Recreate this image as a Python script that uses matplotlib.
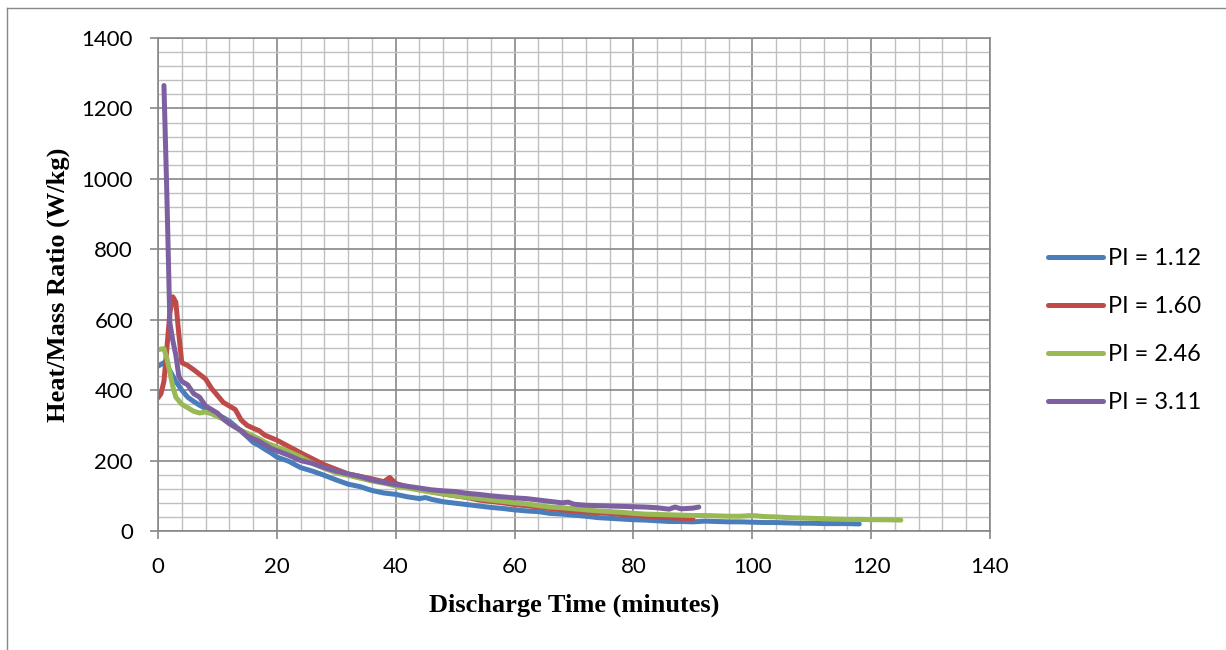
import matplotlib.pyplot as plt
from matplotlib.lines import Line2D
from matplotlib.ticker import MultipleLocator

# PI = 1.12
t_112 = [0, 1, 2, 3, 4, 5, 6, 7, 8, 9, 10, 11, 12, 13, 14, 15, 16, 17, 18, 19,
         20, 22, 24, 26, 28, 30, 32, 34, 36, 38, 40, 42, 44, 45, 46, 48, 50, 52,
         54, 56, 58, 60, 62, 64, 66, 68, 70, 72, 74, 76, 78, 80, 82, 84, 86, 88,
         90, 92, 94, 96, 98, 100, 102, 104, 106, 108, 110, 112, 114, 116, 118]
v_112 = [468, 478, 455, 425, 400, 380, 368, 357, 348, 340, 330, 322, 312, 298,
         283, 268, 252, 243, 232, 222, 210, 198, 180, 170, 158, 145, 133, 126,
         115, 108, 104, 97, 92, 95, 90, 83, 79, 75, 71, 67, 64, 60, 57, 55, 50,
         48, 45, 42, 38, 36, 34, 32, 31, 29, 27, 27, 26, 28, 27, 26, 26, 25, 24,
         24, 23, 22, 22, 21, 21, 21, 20]

# PI = 1.60
t_160 = [0, 0.5, 1, 1.5, 2, 2.5, 3, 3.5, 4, 5, 6, 7, 8, 9, 10, 11, 12, 13, 14,
         15, 16, 17, 18, 19, 20, 22, 24, 26, 28, 30, 32, 34, 36, 38, 39, 40, 42,
         44, 46, 48, 50, 52, 54, 56, 58, 60, 62, 64, 66, 68, 70, 72, 74, 76, 78,
         80, 82, 84, 86, 88, 90]
v_160 = [378, 390, 425, 520, 620, 665, 650, 560, 478, 470, 458, 445, 432, 405,
         385, 365, 355, 345, 315, 300, 292, 285, 272, 265, 258, 240, 222, 205,
         188, 175, 162, 155, 148, 140, 152, 135, 125, 118, 112, 105, 100, 95, 88,
         84, 80, 75, 72, 68, 64, 60, 57, 54, 52, 50, 47, 45, 42, 40, 38, 36, 35]

# PI = 2.46
t_246 = [0, 1, 1.5, 2, 2.5, 3, 4, 5, 6, 7, 8, 9, 10, 11, 12, 13, 14, 15, 16, 17,
         18, 19, 20, 22, 24, 26, 28, 30, 32, 34, 36, 38, 40, 42, 44, 46, 48, 50,
         52, 54, 56, 58, 60, 62, 64, 66, 68, 70, 72, 74, 76, 78, 80, 82, 84, 86,
         88, 90, 92, 94, 96, 98, 100, 102, 104, 106, 108, 110, 112, 114, 116,
         118, 120, 122, 125]
v_246 = [515, 518, 490, 450, 410, 380, 360, 350, 340, 335, 338, 333, 325, 318,
         305, 295, 285, 278, 270, 262, 252, 245, 238, 226, 210, 192, 178, 165,
         158, 150, 142, 136, 128, 122, 116, 110, 105, 100, 96, 92, 88, 84, 80,
         77, 72, 68, 66, 63, 60, 57, 55, 53, 50, 48, 47, 46, 45, 44, 44, 43, 42,
         42, 44, 41, 40, 38, 37, 36, 35, 34, 33, 33, 32, 32, 31]

# PI = 3.11
t_311 = [1, 1.5, 2, 2.5, 3, 3.5, 4, 5, 6, 7, 8, 9, 10, 11, 12, 13, 14, 15, 16,
         17, 18, 19, 20, 22, 24, 26, 28, 30, 32, 34, 36, 38, 40, 42, 44, 46, 48,
         50, 52, 54, 56, 58, 60, 62, 64, 66, 68, 69, 70, 72, 74, 76, 78, 80, 82,
         84, 86, 87, 88, 90, 91]
v_311 = [1265, 950, 590, 540, 500, 440, 425, 415, 390, 380, 355, 345, 335, 318,
         305, 295, 285, 270, 262, 255, 245, 235, 228, 215, 200, 192, 180, 170,
         162, 155, 145, 138, 132, 127, 122, 117, 114, 112, 107, 104, 100, 97, 94,
         92, 88, 84, 80, 82, 76, 73, 72, 71, 70, 69, 68, 66, 62, 68, 63, 65, 68]

labels = ["PI = 1.12", "PI = 1.60", "PI = 2.46", "PI = 3.11"]
colors = ["#4A7EBB", "#BE4B48", "#98B954", "#7D60A0"]

W, H = 1226, 650
fig = plt.figure(figsize=(W / 100, H / 100), dpi=100)
ax = fig.add_axes([158 / W, 1 - 531 / H, 832 / W, 493 / H])

series = [(t_112, v_112), (t_160, v_160), (t_246, v_246), (t_311, v_311)]
for (t, v), lab, col in zip(series, labels, colors):
    ax.plot(t, v, color=col, lw=3.6, label=lab, solid_capstyle="round",
            solid_joinstyle="round")

ax.set_xlim(0, 140)
ax.set_ylim(0, 1400)
ax.xaxis.set_major_locator(MultipleLocator(20))
ax.xaxis.set_minor_locator(MultipleLocator(4))
ax.yaxis.set_major_locator(MultipleLocator(200))
ax.yaxis.set_minor_locator(MultipleLocator(40))
ax.grid(which="minor", color="#BFBFBF", lw=1.0)
ax.grid(which="major", color="#878787", lw=1.2)
ax.set_axisbelow(True)
for s in ax.spines.values():
    s.set_color("#878787")
    s.set_linewidth(1.2)
ax.tick_params(which="major", length=6, width=1.2, color="#878787",
               labelsize=16)
ax.tick_params(axis="x", which="major", pad=13)
ax.tick_params(axis="y", which="major", pad=12)
ax.tick_params(which="minor", length=0)
for lbl in ax.get_xticklabels() + ax.get_yticklabels():
    lbl.set_family("Lato")

ax.set_xlabel("Discharge Time (minutes)", family="Liberation Serif",
              weight="bold", fontsize=19, va="center")
ax.set_ylabel("Heat/Mass Ratio (W/kg)", family="Liberation Serif",
              weight="bold", fontsize=19, va="center")
ax.xaxis.set_label_coords(0.5, (531 - 605) / 493)
ax.yaxis.set_label_coords((58 - 158) / 832, 0.5)

fig.legend(loc="center left", bbox_to_anchor=(1048 / W, 1 - 330.5 / H),
           frameon=False, prop={"family": "Lato", "size": 17},
           handlelength=2.33, labelspacing=1.15, handletextpad=0.22,
           borderpad=0, borderaxespad=0)

# outer chart frame
fig.add_artist(Line2D([7 / W, 7 / W], [0, 1 - 8 / H], color="#888888", lw=1))
fig.add_artist(Line2D([7 / W, 1], [1 - 8 / H, 1 - 8 / H], color="#888888", lw=1))

fig.savefig("out.png", dpi=100)
